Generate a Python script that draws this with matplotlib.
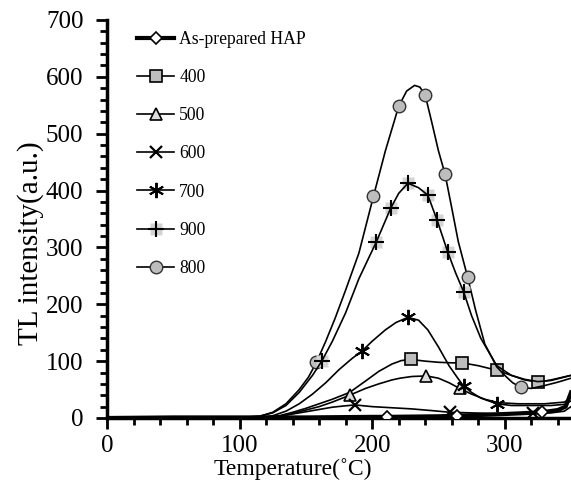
import numpy as np
import matplotlib
matplotlib.use('Agg')
import matplotlib.pyplot as plt
from matplotlib.ticker import MultipleLocator

plt.rcParams['font.family'] = ['Liberation Serif', 'DejaVu Serif']

# TL glow curves (temperature in C, intensity in a.u.)
t_hap = [0, 50, 100, 150, 200, 211, 250, 264, 290, 310, 328, 340, 346, 350]
v_hap = [0, 1, 1, 1, 2, 2, 3, 4, 6, 8, 10, 14, 20, 45]
m_hap = [211, 264, 328]

t_400 = [0, 100, 120, 130, 140, 150, 160, 170, 183, 195, 205, 215, 222, 229, 240, 250, 260, 268, 280, 294, 305, 315, 325, 335, 350]
v_400 = [0, 0, 1, 4, 10, 17, 25, 33, 45, 65, 82, 95, 101, 103, 100, 98, 97, 97, 92, 84, 75, 67, 63, 67, 75]
m_400 = [229, 268, 294, 325]

t_500 = [0, 100, 120, 130, 140, 150, 160, 170, 183, 195, 205, 215, 221, 230, 241, 250, 258, 266, 275, 285, 295, 310, 330, 345, 350]
v_500 = [0, 0, 1, 3, 8, 14, 20, 28, 40, 52, 60, 67, 70, 73, 74, 70, 62, 52, 42, 33, 27, 25, 25, 28, 35]
m_500 = [183, 241, 266]

t_600 = [0, 100, 120, 130, 140, 150, 160, 170, 178, 187, 200, 215, 230, 245, 259, 275, 290, 305, 321, 335, 345, 350]
v_600 = [0, 0, 1, 3, 7, 11, 15, 19, 21, 23, 20, 18, 16, 13, 10, 9, 8, 8, 8, 9, 12, 20]
m_600 = [187, 259, 321]

t_700 = [0, 100, 115, 125, 135, 145, 155, 165, 175, 185, 192, 200, 210, 218, 227, 235, 242, 250, 258, 264, 269, 275, 282, 288, 294, 305, 320, 335, 345, 350]
v_700 = [0, 0, 1, 4, 12, 25, 42, 62, 85, 105, 117, 135, 155, 168, 177, 172, 155, 125, 92, 72, 56, 45, 35, 30, 25, 22, 22, 22, 24, 30]
m_700 = [192, 227, 269, 294]

t_900 = [0, 50, 100, 115, 125, 135, 145, 155, 162, 170, 180, 190, 203, 214, 220, 227, 235, 242, 249, 257, 263, 269, 275, 282, 294, 305, 315, 325, 335, 350]
v_900 = [0, 0, 1, 3, 9, 22, 45, 75, 100, 135, 185, 245, 309, 369, 395, 413, 405, 392, 348, 292, 255, 222, 180, 140, 92, 75, 68, 64, 66, 75]
m_900 = [162, 203, 214, 227, 242, 249, 257, 269]

t_800 = [0, 50, 100, 115, 125, 135, 145, 152, 158, 165, 172, 180, 190, 201, 210, 220, 226, 232, 236, 240, 245, 250, 255, 260, 265, 272, 278, 285, 294, 300, 306, 312, 320, 330, 340, 350]
v_800 = [0, 0, 1, 3, 10, 25, 50, 72, 98, 135, 175, 225, 290, 390, 470, 548, 575, 585, 582, 568, 520, 470, 429, 370, 310, 248, 190, 130, 90, 75, 62, 54, 52, 57, 63, 70]
m_800 = [158, 201, 220, 240, 255, 272, 312]

gray = '#bdbdbd'

fig = plt.figure(figsize=(5.71, 4.93), dpi=100)
ax = fig.add_axes([107/571, 75/493, 464/571, 398/493])

def every(t, m):
    return np.isin(np.array(t), m)

lw = 1.2
h_hap, = ax.plot(t_hap, v_hap, color='black', lw=3, marker='D', ms=6, mfc='white', mec='black', mew=1.2,
                 markevery=every(t_hap, m_hap), label='As-prepared HAP', zorder=3)
h_400, = ax.plot(t_400, v_400, color='black', lw=lw, marker='s', ms=8, mfc=gray, mec='black', mew=1.2,
                 markevery=every(t_400, m_400), label='400')
h_500, = ax.plot(t_500, v_500, color='black', lw=lw, marker='^', ms=8, mfc='#dcdcdc', mec='black', mew=1.2,
                 markevery=every(t_500, m_500), label='500')
h_600, = ax.plot(t_600, v_600, color='black', lw=lw, marker='x', ms=9, mec='black', mew=1.6,
                 markevery=every(t_600, m_600), label='600')
h_700, = ax.plot(t_700, v_700, color='black', lw=lw, marker=(6, 2, 0), ms=11, mec='black', mew=1.4,
                 markevery=every(t_700, m_700), label='700')
h_900a, = ax.plot(t_900, v_900, ls='none', marker='s', ms=8, mfc='#d4d4d4', mec='none',
                  markevery=every(t_900, m_900), zorder=2.5)
h_900b, = ax.plot(t_900, v_900, ls='-', color='black', lw=lw, marker='+', ms=11, mec='black', mew=1.5,
                  markevery=every(t_900, m_900), zorder=2.6)
h_800, = ax.plot(t_800, v_800, color='black', lw=lw, marker='o', ms=9, mfc=gray, mec='#333333', mew=1.0,
                 markevery=every(t_800, m_800), label='800')

ax.set_xlim(0, 350)
ax.set_ylim(0, 700)
ax.xaxis.set_major_locator(MultipleLocator(100))
ax.xaxis.set_minor_locator(MultipleLocator(20))
ax.yaxis.set_major_locator(MultipleLocator(100))
ax.yaxis.set_minor_locator(MultipleLocator(20))
ax.tick_params(which='both', direction='out', width=2, labelsize=18, top=False, right=False)
ax.tick_params(which='major', length=8)
ax.tick_params(which='minor', length=5)
ax.tick_params(axis='y', which='major', pad=9)
ax.tick_params(axis='x', which='major', pad=4)
for s in ['top', 'right']:
    ax.spines[s].set_visible(False)
for s in ['left', 'bottom']:
    ax.spines[s].set_linewidth(2.5)

ax.set_xlabel('Temperature(˚C)', fontsize=17, labelpad=0)
ax.xaxis.set_label_coords(0.40, -0.100)
ax.set_ylabel('TL intensity(a.u.)', fontsize=21)
ax.yaxis.set_label_coords(-0.135, 0.44)

leg = ax.legend([h_hap, h_400, h_500, h_600, h_700, (h_900a, h_900b), h_800],
                ['As-prepared HAP', '400', '500', '600', '700', '900', '800'],
                loc='upper left', bbox_to_anchor=(137/571, 1 - 31/493), bbox_transform=fig.transFigure,
                frameon=False, fontsize=12.7, labelspacing=1.2, handlelength=2.1,
                handletextpad=0.3, borderpad=0, borderaxespad=0)

fig.savefig('out.png', dpi=100)
